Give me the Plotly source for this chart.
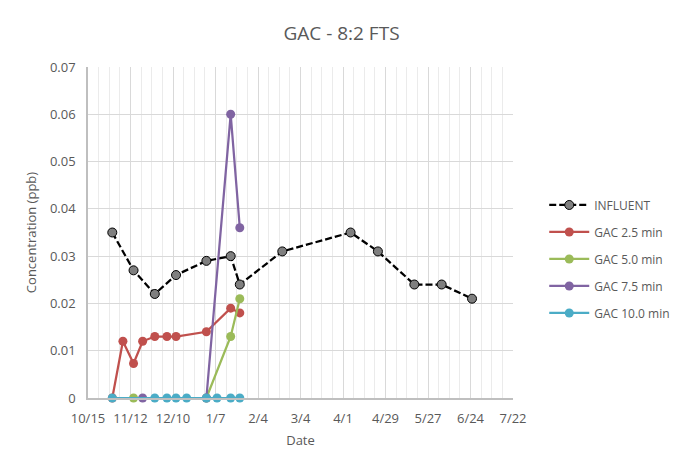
import plotly.graph_objects as go

influent_dates = ["2018-10-31", "2018-11-14", "2018-11-28", "2018-12-12", "2019-01-01",
                  "2019-01-17", "2019-01-23", "2019-02-20", "2019-04-06", "2019-04-24",
                  "2019-05-18", "2019-06-05", "2019-06-25"]
influent_vals = [0.035, 0.027, 0.022, 0.026, 0.029, 0.030, 0.024, 0.031, 0.035, 0.031,
                 0.024, 0.024, 0.021]

gac25_dates = ["2018-10-31", "2018-11-07", "2018-11-14", "2018-11-20", "2018-11-28",
               "2018-12-06", "2018-12-12", "2019-01-01", "2019-01-17", "2019-01-23"]
gac25_vals = [0, 0.012, 0.0073, 0.012, 0.013, 0.013, 0.013, 0.014, 0.019, 0.018]

gac50_dates = ["2018-11-14", "2019-01-01", "2019-01-17", "2019-01-23"]
gac50_vals = [0, 0, 0.013, 0.021]

gac75_dates = ["2018-11-20", "2019-01-01", "2019-01-17", "2019-01-23"]
gac75_vals = [0, 0, 0.060, 0.036]

gac100_dates = ["2018-10-31", "2018-11-28", "2018-12-06", "2018-12-12", "2018-12-19",
                "2019-01-01", "2019-01-08", "2019-01-17", "2019-01-23"]
gac100_vals = [0, 0, 0, 0, 0, 0, 0, 0, 0]

tick_dates = ["2018-10-15", "2018-11-12", "2018-12-10", "2019-01-07", "2019-02-04",
              "2019-03-04", "2019-04-01", "2019-04-29", "2019-05-27", "2019-06-24",
              "2019-07-22"]
tick_labels = ["10/15", "11/12", "12/10", "1/7", "2/4", "3/4", "4/1", "4/29", "5/27",
               "6/24", "7/22"]

FONT = "Open Sans"
GREY = "#595959"

fig = go.Figure()

fig.add_trace(go.Scatter(
    x=influent_dates, y=influent_vals, name="INFLUENT", mode="lines+markers",
    line=dict(color="black", width=2.25, dash="7px,3px"),
    marker=dict(size=9, color="#7f7f7f", line=dict(color="black", width=1)),
    legendgroup="a", cliponaxis=False))

series = [
    ("GAC 2.5 min", gac25_dates, gac25_vals, "#c0504d", "b"),
    ("GAC 5.0 min", gac50_dates, gac50_vals, "#9bbb59", "c"),
    ("GAC 7.5 min", gac75_dates, gac75_vals, "#8064a2", "d"),
    ("GAC 10.0 min", gac100_dates, gac100_vals, "#4bacc6", "e"),
]
for name, xd, yv, col, grp in series:
    fig.add_trace(go.Scatter(
        x=xd, y=yv, name=name, mode="lines+markers",
        line=dict(color=col, width=2.25),
        marker=dict(size=9, color=col),
        legendgroup=grp, cliponaxis=False))

fig.update_layout(
    width=667, height=452,
    paper_bgcolor="white", plot_bgcolor="white",
    margin=dict(l=80, r=162, t=59, b=62, autoexpand=False),
    font=dict(family=FONT, color=GREY, size=13),
    title=dict(text="GAC - 8:2 FTS", x=0.5, xref="container", xanchor="center",
               y=1 - 25 / 452, yref="container", yanchor="middle",
               font=dict(size=19, color=GREY, family=FONT)),
    showlegend=True,
    legend=dict(x=1.0735, xanchor="left", y=0.42, yanchor="middle",
                font=dict(size=12, color=GREY, family=FONT),
                tracegroupgap=8, itemwidth=40, bgcolor="rgba(0,0,0,0)"),
)

fig.update_xaxes(
    type="date",
    range=["2018-10-15", "2019-07-22"],
    tickmode="array", tickvals=tick_dates, ticktext=tick_labels,
    showgrid=True, gridcolor="#d9d9d9", gridwidth=1,
    minor=dict(dtick=7 * 86400000, tick0="2018-10-15", showgrid=True,
               gridcolor="#ebebeb", gridwidth=1),
    showline=True, linecolor="#bfbfbf", linewidth=1.5,
    ticks="", ticklabelstandoff=8,
    tickfont=dict(size=13, color=GREY),
    title=dict(text="Date", font=dict(size=13, color=GREY), standoff=10),
    zeroline=False,
)

fig.update_yaxes(
    range=[0, 0.07], dtick=0.01, tick0=0,
    tickformat="~g",
    showgrid=True, gridcolor="#d9d9d9", gridwidth=1,
    showline=True, linecolor="#bfbfbf", linewidth=1.5,
    ticks="", ticklabelstandoff=8,
    tickfont=dict(size=13, color=GREY),
    title=dict(text="Concentration (ppb)", font=dict(size=13, color=GREY), standoff=10),
    zeroline=False,
)

fig.write_html("out.html")
